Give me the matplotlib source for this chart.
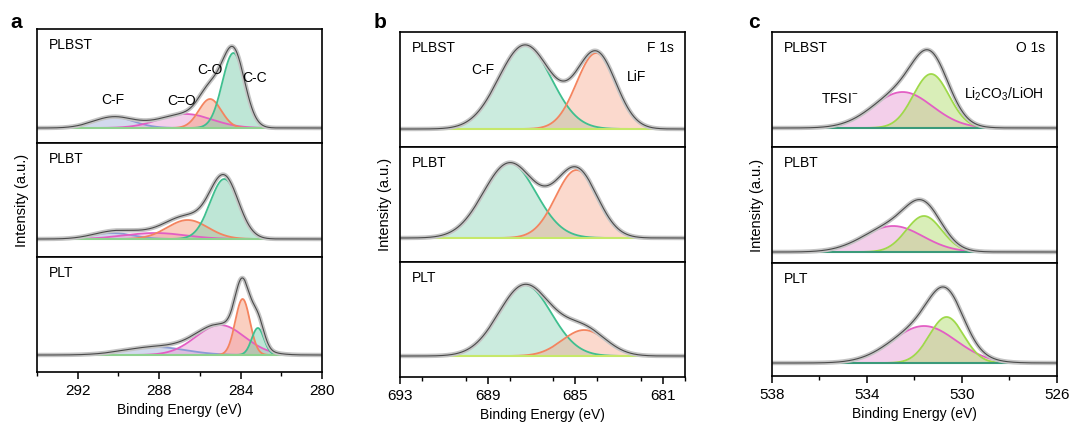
import numpy as np
import matplotlib
matplotlib.use("Agg")
import matplotlib.pyplot as plt
from matplotlib.ticker import MultipleLocator

plt.rcParams['font.family'] = ['Liberation Sans', 'DejaVu Sans']

# ---------------- data (peak centre eV, height, sigma eV) ----------------
samples = ["PLBST", "PLBT", "PLT"]

# Panel a : C 1s
a_xlim = (294, 280)
a_ticks = [292, 288, 284, 280]
a_CC = [(284.35, 75, 0.55), (284.80, 60, 0.70), (283.15, 27, 0.30)]
a_CO = [(285.50, 29, 0.55), (286.60, 19, 1.00), (283.90, 56, 0.36)]
a_CdO = [(286.70, 14, 1.30), (288.20, 6, 1.50), (285.00, 30, 1.20)]
a_CF = [(290.25, 11, 1.00), (290.30, 6, 1.00), (288.20, 8, 1.50)]
a_base = [15, 18, 17]

# Panel b : F 1s
b_xlim = (693, 680)
b_ticks = [693, 689, 685, 681]
b_CF = [(687.3, 84, 1.20), (688.0, 75, 1.20), (687.3, 71, 1.20)]
b_LiF = [(684.05, 76, 0.90), (684.95, 68, 0.95), (684.6, 26, 1.00)]
b_base = [18, 24, 21]

# Panel c : O 1s
c_xlim = (538, 526)
c_ticks = [538, 534, 530, 526]
c_TFSI = [(532.5, 36, 1.25), (532.9, 26, 1.25), (531.6, 37, 1.35)]
c_Li2CO3 = [(531.3, 54, 0.75), (531.6, 36, 0.75), (530.65, 46, 0.72)]
c_base = [19, 11, 13]

# ---------------- style ----------------
GREEN = ("#3fbf8f", "#7fcfae")
ORANGE = ("#f4845f", "#f7a183")
PINK = ("#e35ec4", "#e9a0d6")
BLUE = ("#8b9ad6", "#a7b4dc")
LGREEN = ("#9fd94a", "#b5de73")

W, H = 1070, 423
fig = plt.figure(figsize=(W / 100, H / 100), dpi=100)


def gauss(x, p):
    c, h, s = p
    return h * np.exp(-0.5 * ((x - c) / s) ** 2)


def make_axes(x0, x1, ys):
    axs = []
    for i in range(3):
        top, bot = ys[i], ys[i + 1]
        ax = fig.add_axes([x0 / W, 1 - bot / H, (x1 - x0) / W, (bot - top) / H])
        axs.append(ax)
    return axs


def draw(ax, xlim, comps, base, hpx, baseline_color, alpha_fill=0.5):
    x = np.linspace(min(xlim), max(xlim), 800)
    total = np.zeros_like(x)
    for p, (ec, fc) in comps:
        y = gauss(x, p)
        total += y
        ax.fill_between(x, 0, y, color=fc, alpha=alpha_fill, lw=0)
        ax.plot(x, y, color=ec, lw=1.3)
    ax.plot(x, np.zeros_like(x), color=baseline_color, lw=1.5)
    ax.plot(x, total, color="#c4c4c4", lw=3.2, solid_capstyle="round")
    ax.plot(x, total, color="#4a4a4a", lw=0.8)
    ax.set_xlim(*xlim)
    ax.set_ylim(-base, hpx - base)
    ax.set_yticks([])
    for sp in ax.spines.values():
        sp.set_linewidth(1.2)


def style_x(axs, ticks):
    for ax in axs[:-1]:
        ax.set_xticks([])
    ax = axs[-1]
    ax.set_xticks(ticks)
    ax.xaxis.set_minor_locator(MultipleLocator(2))
    ax.tick_params(axis="x", which="major", length=5, width=1.1, labelsize=11, direction="out")
    ax.tick_params(axis="x", which="minor", length=3, width=1.0, direction="out")
    ax.set_xlabel("Binding Energy (eV)", fontsize=10, labelpad=4)
    axs[1].set_ylabel("Intensity (a.u.)", fontsize=10.5, labelpad=6)


def label(ax, txt):
    ax.text(0.04, 0.86, txt, transform=ax.transAxes, fontsize=10, va="center", ha="left")


# ---------- panel a ----------
ys_a = [29, 143, 257, 372]
axa = make_axes(37, 322, ys_a)
for i in range(3):
    comps = [(a_CF[i], BLUE), (a_CdO[i], PINK), (a_CO[i], ORANGE), (a_CC[i], GREEN)]
    draw(axa[i], a_xlim, comps, a_base[i], ys_a[i + 1] - ys_a[i], "#8fd18f")
    label(axa[i], samples[i])
style_x(axa, a_ticks)
ta = axa[0]
ta.text(290.3, 24, "C-F", fontsize=10, ha="center")
ta.text(286.9, 23, "C=O", fontsize=10, ha="center")
ta.text(285.5, 54, "C-O", fontsize=10, ha="center")
ta.text(283.9, 46, "C-C", fontsize=10, ha="left")

# ---------- panel b ----------
ys_b = [32, 147, 262, 377]
axb = make_axes(400, 685, ys_b)
for i in range(3):
    comps = [(b_CF[i], GREEN), (b_LiF[i], ORANGE)]
    draw(axb[i], b_xlim, comps, b_base[i], ys_b[i + 1] - ys_b[i], "#c6e86a", alpha_fill=0.4)
    label(axb[i], samples[i])
style_x(axb, b_ticks)
tb = axb[0]
tb.text(689.2, 55, "C-F", fontsize=10, ha="center")
tb.text(682.65, 48, "LiF", fontsize=10, ha="left")
tb.text(0.96, 0.86, "F 1s", transform=tb.transAxes, fontsize=10, ha="right", va="center")

# ---------- panel c ----------
ys_c = [32, 147, 263, 376]
axc = make_axes(772, 1057, ys_c)
for i in range(3):
    comps = [(c_TFSI[i], PINK), (c_Li2CO3[i], LGREEN)]
    draw(axc[i], c_xlim, comps, c_base[i], ys_c[i + 1] - ys_c[i], "#3a9a7a", alpha_fill=0.5)
    label(axc[i], samples[i])
style_x(axc, c_ticks)
tc = axc[0]
tc.text(535.15, 25, r"TFSI$^{\mathregular{-}}$", fontsize=10, ha="center")
tc.text(529.9, 29, r"Li$_{\mathregular{2}}$CO$_{\mathregular{3}}$/LiOH", fontsize=10, ha="left")
tc.text(0.96, 0.86, "O 1s", transform=tc.transAxes, fontsize=10, ha="right", va="center")

# panel letters
fig.text(10 / W, 1 - 22 / H, "a", fontsize=15, fontweight="bold", va="center")
fig.text(374 / W, 1 - 22 / H, "b", fontsize=15, fontweight="bold", va="center")
fig.text(748 / W, 1 - 22 / H, "c", fontsize=15, fontweight="bold", va="center")

fig.savefig("out.png", dpi=100)
